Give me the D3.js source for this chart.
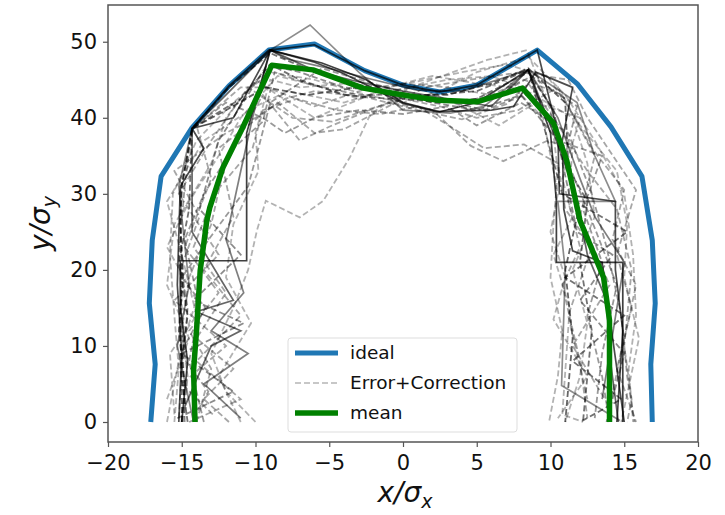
<!DOCTYPE html>
<html>
<head>
<meta charset="utf-8">
<script src="https://cdn.jsdelivr.net/npm/d3@7"></script>
<style>
  html, body { margin: 0; padding: 0; background: #fff; }
  svg { display: block; }
  text { font-family: "DejaVu Sans", sans-serif; }
</style>
</head>
<body>
<div id="chart"></div>
<script>
// ---------------- data ----------------
const xTicks = [-20, -15, -10, -5, 0, 5, 10, 15, 20];
const yTicks = [0, 10, 20, 30, 40, 50];
const legendLabels = ["ideal", "Error+Correction", "mean"];

const idealX = [-17.1, -16.8, -17.2, -17.0, -16.4, -14.3, -11.8, -9.1, -6.0, -2.6, 0.0, 2.5, 5.0, 9.1, 11.8, 14.1, 16.2, 16.9, 17.1, 16.8, 16.9];
const idealY = [0, 7.6, 15.6, 23.9, 32.3, 38.7, 44.2, 48.9, 49.7, 46.2, 44.3, 43.4, 44.3, 48.9, 44.5, 38.8, 32.3, 23.9, 15.6, 7.6, 0];

const meanX = [-14.1, -14.2, -14.0, -13.75, -13.3, -13.1, -12.2, -10.85, -8.9, -6.1, -2.7, 0.0, 2.4, 5.0, 8.1, 10.2, 11.1, 12.0, 13.6, 14.0, 14.0];
const meanY = [0, 6.8, 12.0, 19.9, 26.5, 28.2, 33.5, 38.8, 46.9, 46.3, 43.9, 43.0, 42.3, 42.1, 43.9, 39.3, 34.4, 26.5, 19.0, 13.4, 0];

// Error+Correction runs (dashed)
const dashedRuns = [
  [[-15.5,0],[-15.2,7],[-15.5,14],[-15.8,22],[-15.6,30],[-14,37],[-11.5,42],[-9,46],[-6,45],[-2.5,43],[0,42],[2.5,43.5],[5,46],[8.5,48],[11,43],[13,37],[15,30],[15.6,22],[15.8,14],[15.3,7],[15.6,0]],
  [[-10,0],[-12,4],[-13,9],[-11.5,15],[-10.5,20],[-9.9,25.2],[-9.3,29.1],[-7,26.9],[-5.4,29.1],[-3.6,34.8],[-2.2,40.5],[0.5,44],[5.7,47.6],[8.4,48.9],[10,41],[10.5,33],[10.2,26],[10,19],[10.8,12],[10.5,6],[9.9,0]],
  [[-16,0],[-15,10],[-14,16],[-16,23],[-14.5,29],[-12.5,35],[-11,40],[-8.5,45.5],[-5.5,44],[-3,42.5],[0.5,44],[3,45],[6,45.5],[8,44],[11.5,40],[12.5,34],[13,27],[11.5,20],[12.5,13],[12,6],[11,0]],
  [[-14.9,0],[-14.6,6],[-15,12],[-14.5,19],[-13,26],[-12.2,33],[-11,38],[-9.5,43],[-7,37],[-4.8,39],[-1,42],[2,41],[4.6,36.3],[6.8,34.3],[9.8,37],[11.5,36],[11.2,29],[12,23],[10.8,18],[12,8],[12.5,0.5]],
  [[-12.9,1],[-15,5],[-12,10],[-15.5,16],[-12.5,22],[-15.2,30],[-13,37],[-10.5,44],[-7.5,40],[-4.8,39.5],[-2.5,41],[0,42.5],[2.5,41.5],[5,40],[7.8,41],[10.5,44],[13,35],[12,27],[14,18],[11.5,10],[14,2]],
  [[-14.5,0],[-11,3],[-14,8],[-11,14],[-13.5,20],[-11.5,27],[-12.5,36],[-8.5,42],[-6,38],[-4,38.5],[-1,41.5],[1.5,44],[4.5,45],[8,46],[11.2,45],[12.5,40],[15.8,30.5],[14.5,22],[15.5,15],[14.5,7],[15.8,0]],
  [[-15.5,1],[-15.8,9],[-14,14],[-15,22],[-16,29],[-13.5,37],[-10,41.5],[-7.8,43.5],[-4,42],[-1.5,43.5],[1,44],[4,41.5],[6.5,39],[9,42],[12,40],[10.8,32],[11.5,27],[10.2,22],[11.3,15],[10.8,1],[12.2,0]],
  [[-13.5,0],[-14.5,8],[-13.8,15],[-14.8,24],[-13.5,30],[-11.5,36],[-9.5,39.5],[-8.7,46],[-6.5,44.5],[-3,43],[0,43],[2.5,42.5],[5.5,41],[9,43.5],[10.5,37],[13.5,35],[12.2,28],[13.5,21],[12.5,14],[13.5,6],[14,0]],
  [[-15.2,0.5],[-14.9,10],[-15.1,20],[-13.8,27],[-15.5,33],[-12,38],[-10,40],[-8,42.5],[-6,43.5],[-2.5,42.7],[1,41],[4,39.8],[7,41.8],[8.5,44.5],[10.2,40],[12.5,33],[14.5,28],[15.5,20],[15,10],[15.5,3],[15.2,0]],
  [[-11,0],[-12.5,6],[-10.3,13],[-12,19],[-11.5,26],[-9.8,33],[-10,38],[-9,45],[-7,44],[-4,44.5],[-1,44],[2,45.5],[5,44.5],[7.5,44],[9.5,40],[10.5,30],[10,25],[11,19],[10.2,13.5],[12.5,6],[10.5,0.5]],
  [[-14,0],[-13,7],[-14.5,12],[-12.5,17],[-14.8,23],[-13,32],[-14,39],[-11,44],[-9.2,44],[-6,41.5],[-2.5,43.8],[0,44.5],[3,44],[6,43],[8.2,45],[10.8,43],[12.8,36],[15,30.5],[14.2,24],[15.8,18],[14,2]],
  [[-15,0],[-15,6],[-15.1,13],[-15,20],[-15.1,27],[-15,31],[-14.3,38.6],[-11.8,44],[-9,48.5],[-6,46],[-2.5,44],[0,42.5],[2.5,42],[5,42.5],[8.5,46],[10.2,41],[11,34],[12.5,29],[12,21],[12.8,12],[12.2,0]],
  [[-14.8,0],[-14.9,8],[-14.6,15],[-15.2,22],[-14.8,31],[-14.3,38.6],[-12,42],[-9.5,40],[-8,38],[-6,40],[-3,41],[0,40.5],[3,41.5],[5,39],[8,42],[11.2,38],[12.8,30],[13.8,23],[14.8,14],[15.2,6],[15.7,0]],
  [[-14.2,0.5],[-13.2,4],[-15.1,9],[-13.4,15],[-15,19],[-12.8,25],[-10.5,31],[-9.8,36],[-9,42],[-5.5,46.5],[-2,44.5],[0.5,43],[3.5,42],[6.5,43],[8.7,45.5],[11.8,41.5],[11,35],[13,25.5],[14.5,18],[13.5,9],[13,0.5]],
  [[-16,3],[-14.5,11],[-16,18],[-15.5,26],[-13,34],[-12,40],[-10,45],[-8.5,43],[-6,40],[-3.5,42],[-1,44],[1.5,45],[4,46],[7,47],[9.8,45.5],[12,39],[14.5,33],[15.2,26],[15,19],[16,11],[14.8,0]],
  [[-11.8,0],[-13.5,3],[-11.5,7],[-14,11],[-12,17],[-14.2,23],[-12.8,30],[-10.2,36],[-9.5,41],[-7.2,42.5],[-4.5,41],[-1.5,40.5],[1,41.5],[3.5,38.5],[5.5,36],[8.2,36.5],[10.5,34],[11,28],[12.8,23],[11.2,14],[12.5,3]],
  [[-15,0],[-14.8,5],[-15.2,12],[-14.9,19],[-15.1,26],[-15,31],[-14.3,38.6],[-12,41],[-9.3,44],[-6.5,43],[-3,44],[0,43],[3,43],[6,44.5],[8.5,46.5],[11,42],[11.2,34],[11.8,27],[11,20],[11.5,11],[11,0]],
  [[-14.6,0],[-15.1,7],[-14.6,14],[-15.2,21],[-14.5,28],[-14.3,38.6],[-11,42.5],[-9,47],[-7,45],[-4,43],[-1,42.5],[2,43],[5,43.5],[8.5,46.3],[10.8,30],[15.2,25],[11,19],[15,14],[11.5,8],[14.8,3],[12,0]],
  [[-15.3,0.5],[-11.5,4],[-15,9],[-10.8,13],[-14.2,16],[-11,22],[-13.8,28],[-12.5,37],[-9.2,47],[-7,46],[-4,44],[-1,43.5],[2,42],[5,41],[8,43],[10.5,37],[11.8,25],[14.2,22],[12,16],[15,9],[13.8,0]]
];
const dashedOpacity = [0.3, 0.3, 0.3, 0.35, 0.35, 0.35, 0.3, 0.4, 0.35, 0.3, 0.35, 0.55, 0.4, 0.4, 0.3, 0.35, 0.6, 0.55, 0.45];

// solid runs
const solidRuns = [
  [[-15,0],[-14.6,8],[-15.1,15],[-15.1,21.2],[-10.6,21.2],[-10.6,30],[-10.6,38],[-9,48.9],[-5.5,47.2],[-2.5,45],[0,42],[2.5,40.8],[5,42],[8.5,46.3],[10,38],[10.4,29],[10.4,21],[14.9,21],[14.9,14],[14.9,7],[14.9,0]],
  [[-14.2,0],[-15.3,10],[-14.5,18],[-15,27],[-15.2,31],[-14.3,38.6],[-11.8,44],[-9,48.9],[-6.3,52.2],[-3,46],[0,41],[3.2,40.6],[5.5,41.5],[8.5,46.3],[11.8,42],[13,35],[14.4,29],[10.5,29],[11,20],[10.75,4.8],[14.7,0.2]],
  [[-14.8,2],[-13,10],[-11,12],[-14,14.5],[-11.5,16],[-14.3,25],[-14.3,38.6],[-12,43],[-9,48.9],[-6,46.2],[-3.4,44.9],[0,43.5],[3,42.5],[6,41.5],[8.5,46.3],[10.2,38],[11.7,30],[12.5,22],[13.8,16],[14,9],[14.6,0]],
  [[-15.2,0],[-15,9],[-15.3,18],[-15.1,31],[-13.5,36],[-14.3,38.6],[-11.5,40],[-9,48.9],[-6,47.3],[-4,45.8],[0,41.9],[2.3,40.8],[6,41],[7.5,41.5],[9,46],[11.5,44],[10.8,37],[10.9,28],[11.5,22.5],[13.5,21],[15,0]],
  [[-11,0.5],[-13.5,5],[-10.5,9],[-13,12],[-10.8,17],[-12,24],[-11,33],[-10.2,40],[-9,48.9],[-8,47.8],[-5,46.5],[-2,45],[1,43.6],[4,43.5],[8.5,46.3],[10.5,40],[12,32],[13,27],[15,21],[14,9],[13.5,3]],
  [[-14.3,38.6],[-11.8,44.2],[-9.1,48.9],[-6,49.6],[-2.6,46.2],[0,44.3],[2.5,43.4],[5,44.3],[9.1,48.9],[10.5,38],[10.6,30],[14.4,29],[14.4,20],[14.9,12],[14.5,0]]
];
const solidOpacity = [0.75, 0.45, 0.6, 0.7, 0.5, 0.7];

// ---------------- layout ----------------
const W = 725, H = 515;
const plot = { left: 108, right: 698, top: 5, bottom: 442 };

const svg = d3.select("#chart").append("svg").attr("width", W).attr("height", H);

const x = d3.scaleLinear().domain([-20, 20]).range([plot.left, plot.right]);
const y = d3.scaleLinear().domain([-2.63, 54.83]).range([plot.bottom, plot.top]);

svg.append("defs").append("clipPath").attr("id", "clip")
  .append("rect").attr("x", plot.left).attr("y", plot.top)
  .attr("width", plot.right - plot.left).attr("height", plot.bottom - plot.top);

const line = d3.line().x(d => x(d[0])).y(d => y(d[1]));
const g = svg.append("g").attr("clip-path", "url(#clip)");

const idealPts = idealX.map((v, i) => [v, idealY[i]]);
const meanPts = meanX.map((v, i) => [v, meanY[i]]);

g.append("path").datum(idealPts).attr("d", line)
  .attr("fill", "none").attr("stroke", "#1f77b4").attr("stroke-width", 5)
  .attr("stroke-linejoin", "round");

g.selectAll("path.dash").data(dashedRuns).enter().append("path")
  .attr("class", "dash").attr("d", line)
  .attr("fill", "none").attr("stroke", "#000")
  .attr("stroke-opacity", (d, i) => dashedOpacity[i])
  .attr("stroke-width", 1.8).attr("stroke-dasharray", "6,3");

g.selectAll("path.solid").data(solidRuns).enter().append("path")
  .attr("class", "solid").attr("d", line)
  .attr("fill", "none").attr("stroke", "#000")
  .attr("stroke-opacity", (d, i) => solidOpacity[i])
  .attr("stroke-width", 1.7);

g.append("path").datum(meanPts).attr("d", line)
  .attr("fill", "none").attr("stroke", "#008000").attr("stroke-width", 5.5)
  .attr("stroke-linejoin", "round");

// ---------------- axes ----------------
const axisColor = "#555";
const xAxis = svg.append("g").attr("transform", `translate(0,${plot.bottom})`)
  .call(d3.axisBottom(x).tickValues(xTicks).tickSize(5).tickPadding(8)
    .tickFormat(d => d < 0 ? "\u2212" + Math.abs(d) : d));
const yAxis = svg.append("g").attr("transform", `translate(${plot.left},0)`)
  .call(d3.axisLeft(y).tickValues(yTicks).tickSize(5).tickPadding(6));

[xAxis, yAxis].forEach(a => {
  a.select(".domain").remove();
  a.selectAll(".tick line").attr("stroke", axisColor).attr("stroke-width", 1.2);
  a.selectAll(".tick text").attr("fill", "#111").style("font-size", "21px")
    .style("font-family", "'DejaVu Sans', sans-serif");
});

svg.append("rect").attr("x", plot.left).attr("y", plot.top)
  .attr("width", plot.right - plot.left).attr("height", plot.bottom - plot.top)
  .attr("fill", "none").attr("stroke", axisColor).attr("stroke-width", 1.5);

// axis titles
const xt = svg.append("text").attr("x", (plot.left + plot.right) / 2 + 2).attr("y", 502)
  .attr("text-anchor", "middle").style("font-size", "28px").style("font-style", "italic").attr("fill", "#111");
xt.append("tspan").text("x/\u03C3");
xt.append("tspan").attr("dy", 6).style("font-size", "19px").text("x");

const yt = svg.append("text")
  .attr("transform", `translate(50,${(plot.top + plot.bottom) / 2}) rotate(-90)`)
  .attr("text-anchor", "middle").style("font-size", "28px").style("font-style", "italic").attr("fill", "#111");
yt.append("tspan").text("y/\u03C3");
yt.append("tspan").attr("dy", 6).style("font-size", "19px").text("y");

// ---------------- legend ----------------
const lg = svg.append("g");
lg.append("rect").attr("x", 288).attr("y", 338).attr("width", 229).attr("height", 94)
  .attr("rx", 3).attr("fill", "#fff").attr("fill-opacity", 0.85)
  .attr("stroke", "#ddd").attr("stroke-width", 1);
const legendStyles = [
  { color: "#1f77b4", width: 5, dash: null, op: 1 },
  { color: "#000", width: 1.8, dash: "6,3", op: 0.22 },
  { color: "#008000", width: 5.5, dash: null, op: 1 }
];
legendLabels.forEach((lab, i) => {
  const yy = 353 + i * 30;
  const s = legendStyles[i];
  lg.append("line").attr("x1", 295).attr("x2", 338).attr("y1", yy).attr("y2", yy)
    .attr("stroke", s.color).attr("stroke-width", s.width).attr("stroke-opacity", s.op)
    .attr("stroke-dasharray", s.dash);
  lg.append("text").attr("x", 350).attr("y", yy + 6).style("font-size", "18.5px")
    .attr("fill", "#111").text(lab);
});
</script>
</body>
</html>
